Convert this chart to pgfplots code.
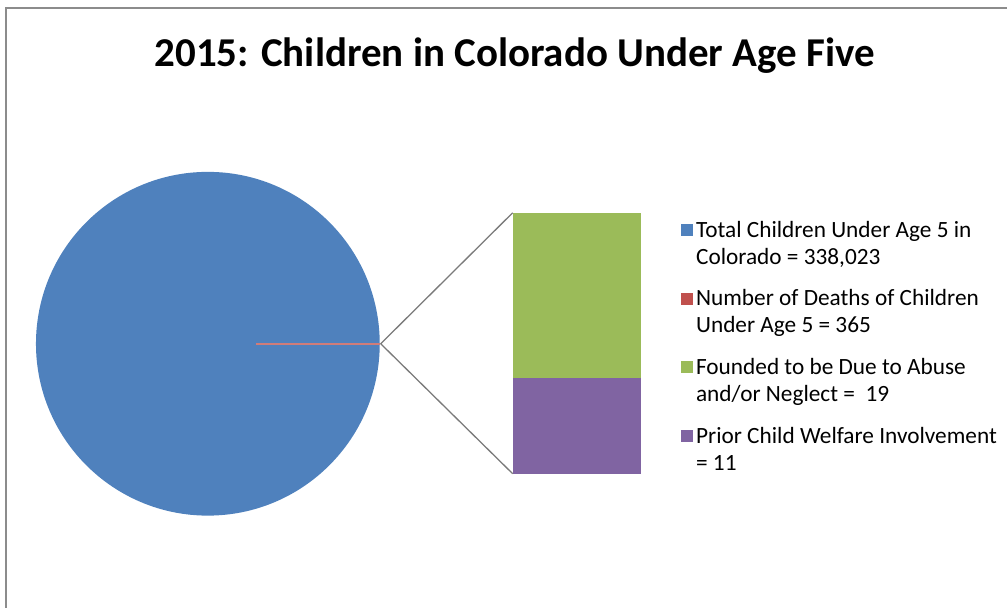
\documentclass[border=0pt]{standalone}
\usepackage{pgfplots}
\pgfplotsset{compat=1.18}
\usepackage{fontspec}
\setmainfont{Carlito}
\definecolor{cBlue}{HTML}{4F81BD}
\definecolor{cRed}{HTML}{C0504D}
\definecolor{cGreen}{HTML}{9BBB59}
\definecolor{cPurple}{HTML}{8064A2}
\definecolor{cFrame}{HTML}{8C8C8C}
\definecolor{cConn}{HTML}{7A7A7A}
\begin{document}
\begin{tikzpicture}
% bar of the "other" slice: 11 (prior involvement) + 19 (abuse/neglect)
\begin{axis}[
  width=1008pt, height=608pt, scale only axis, hide axis,
  xmin=0, xmax=1008, ymin=-15.43, ymax=54.58,
  ybar stacked, bar width=128,
]
\addplot[fill=cPurple, draw=none] coordinates {(577,11)};
\addplot[fill=cGreen, draw=none] coordinates {(577,19)};
\end{axis}
\begin{axis}[
  width=1008pt, height=608pt, scale only axis, hide axis, clip=false,
  xmin=0, xmax=1008, ymin=0, ymax=608,
  legend style={at={(0.6756,0.6398)}, anchor=north west, draw=none, fill=none,
    font=\fontsize{23.3}{27}\selectfont, row sep=20pt, inner sep=0pt,
    cells={anchor=west, align=left}},
  legend cell align=left,
]
\path (axis cs:0,0) rectangle (axis cs:1008,608);
\draw[cFrame, line width=1.5pt] (axis cs:6,0) -- (axis cs:6,600) -- (axis cs:1008,600);
\fill[cBlue] (axis cs:208,264) circle [radius=172];
\draw[cRed!75, line width=2pt] (axis cs:256,264) -- (axis cs:380,264);
\draw[cConn, line width=1.3pt] (axis cs:513,395) -- (axis cs:381,264) -- (axis cs:513,134);
\node[font=\fontsize{41}{46}\selectfont\bfseries] at (axis cs:515,552) {2015: Children in Colorado Under Age Five};
\addlegendimage{legend image code/.code={\path (0pt,0pt) (13pt,1pt); \fill[overlay,cBlue] (0pt,8pt) rectangle (11pt,19pt);}}
\addlegendentry{Total Children Under Age 5 in\\Colorado = 338,023}
\addlegendimage{legend image code/.code={\path (0pt,0pt) (13pt,1pt); \fill[overlay,cRed] (0pt,8pt) rectangle (11pt,19pt);}}
\addlegendentry{Number of Deaths of Children\\Under Age 5 = 365}
\addlegendimage{legend image code/.code={\path (0pt,0pt) (13pt,1pt); \fill[overlay,cGreen] (0pt,8pt) rectangle (11pt,19pt);}}
\addlegendentry{Founded to be Due to Abuse\\and/or Neglect =\ \ 19}
\addlegendimage{legend image code/.code={\path (0pt,0pt) (13pt,1pt); \fill[overlay,cPurple] (0pt,8pt) rectangle (11pt,19pt);}}
\addlegendentry{Prior Child Welfare Involvement\\= 11}
\end{axis}
\end{tikzpicture}
\end{document}
